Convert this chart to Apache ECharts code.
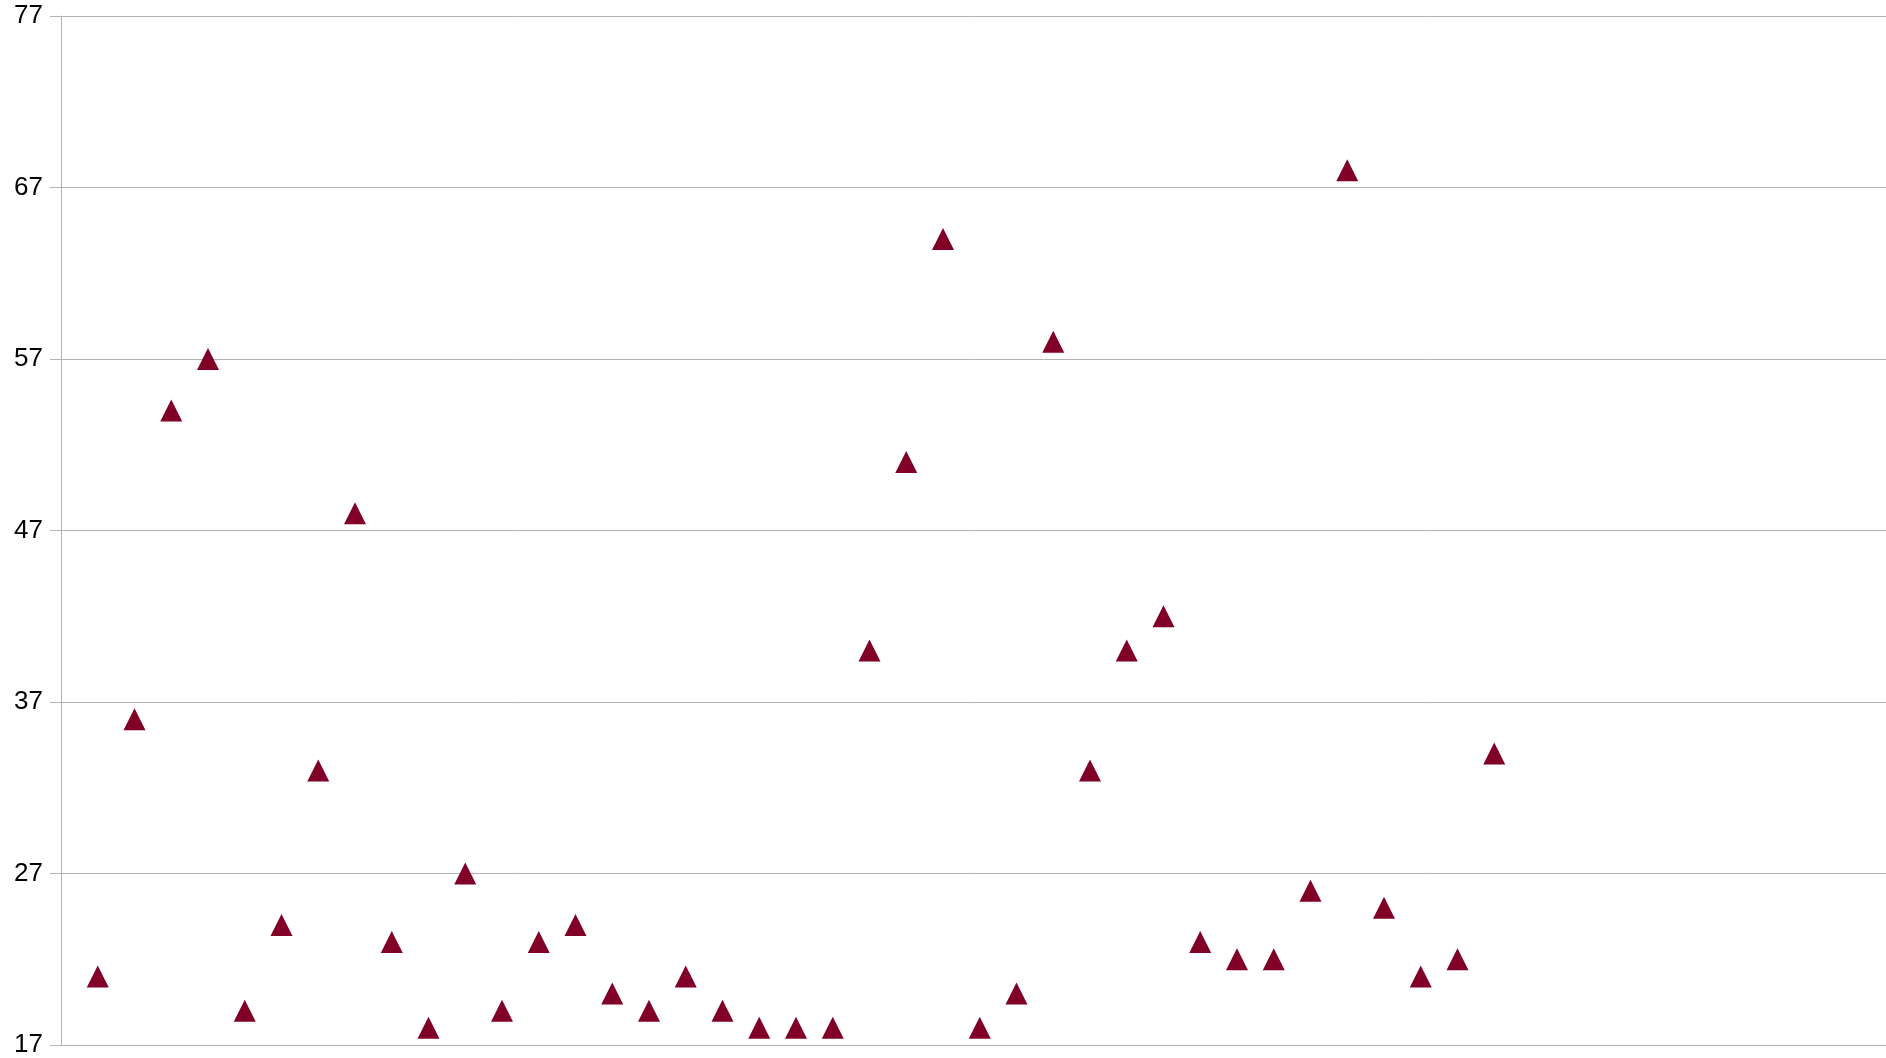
<!DOCTYPE html>
<html>
<head>
<meta charset="utf-8">
<script src="https://cdn.jsdelivr.net/npm/echarts@6/dist/echarts.min.js"></script>
<style>html,body{margin:0;padding:0;background:#fff;}#c{width:1886px;height:1058px;}</style>
</head>
<body>
<div id="c"></div>
<script>
const xValues = [1,2,3,4,5,6,7,8,9,10,11,12,13,14,15,16,17,18,19,20,21,22,23,24,25,26,27,28,29,30,31,32,33,34,35,36,37,38,39];
const yValues = [21,36,54,57,19,24,33,48,23,18,27,19,23,24,20,19,21,19,18,18,18,40,51,64,18,20,58,33,40,42,23,22,22,26,68,25,21,22,34];
const yTicks = [17,27,37,47,57,67,77];

const chart = echarts.init(document.getElementById('c'));
chart.setOption({
  animation: false,
  backgroundColor: '#ffffff',
  grid: { left: 61, right: 0, top: 16, bottom: 12, containLabel: false },
  xAxis: {
    type: 'value', min: 0, max: 49.66,
    axisLine: { show: true, lineStyle: { color: '#b3b3b3', width: 1 } },
    axisTick: { show: false }, axisLabel: { show: false }, splitLine: { show: false }
  },
  yAxis: {
    type: 'value', min: yTicks[0], max: yTicks[yTicks.length-1], interval: 10,
    axisLine: { show: true, lineStyle: { color: '#b3b3b3', width: 1 } },
    axisTick: { show: true, length: 11, lineStyle: { color: '#b3b3b3' } },
    axisLabel: { show: true, color: '#000000', fontSize: 26, fontFamily: 'Liberation Sans', margin: 18 },
    splitLine: { show: true, lineStyle: { color: '#b3b3b3', width: 1 } }
  },
  series: [{
    type: 'scatter',
    symbol: 'triangle',
    symbolSize: [22, 22],
    itemStyle: { color: '#800027', opacity: 1 },
    data: xValues.map((x, i) => [x, yValues[i]])
  }]
});
</script>
</body>
</html>
